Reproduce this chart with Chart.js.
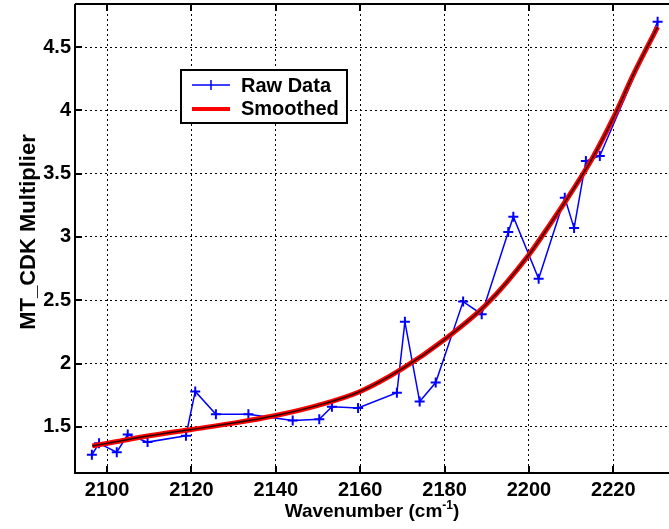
<!DOCTYPE html>
<html>
<head>
<meta charset="utf-8">
<title>MT_CDK Multiplier</title>
<script src="https://cdn.jsdelivr.net/npm/chart.js@4.4.0/dist/chart.umd.min.js"></script>
<style>
  html, body { margin: 0; padding: 0; background: #fff; }
  #wrap { width: 669px; height: 529px; }
</style>
</head>
<body>
<div id="wrap"><canvas id="multiplier_chart" width="669" height="529"></canvas></div>
<script>
// Raw multiplier per wavenumber (cm-1)
const raw_wavenumbers = [2096.4, 2098.1, 2102.3, 2104.9, 2109.6, 2118.7, 2120.9, 2125.8, 2133.5,
                         2144.0, 2150.3, 2153.3, 2159.5, 2168.7, 2170.6, 2174.1, 2177.9, 2184.4,
                         2188.8, 2195.1, 2196.3, 2202.3, 2208.5, 2210.7, 2213.5, 2216.8, 2230.5];
const raw_multipliers = [1.28, 1.37, 1.30, 1.44, 1.38, 1.43, 1.78, 1.60, 1.60,
                         1.55, 1.56, 1.66, 1.65, 1.77, 2.33, 1.70, 1.85, 2.49,
                         2.39, 3.04, 3.16, 2.67, 3.31, 3.07, 3.60, 3.64, 4.70];

// Smoothed fit through the raw data
const smooth_wavenumbers = [2096.5, 2100, 2110, 2120, 2130, 2140, 2150, 2160, 2170, 2180,
                            2190, 2200, 2205, 2210, 2215, 2220, 2225, 2230.5];
const smooth_multipliers = [1.35, 1.37, 1.43, 1.48, 1.53, 1.59, 1.67, 1.78, 1.96, 2.19,
                            2.47, 2.86, 3.10, 3.35, 3.62, 3.94, 4.30, 4.66];

// Axis ticks and limits
const x_ticks = [2100, 2120, 2140, 2160, 2180, 2200, 2220];
const y_ticks = [1.5, 2, 2.5, 3, 3.5, 4, 4.5];
const x_limits = [2092.4, 2233.2];
const y_limits = [1.136, 4.84];

const FONT_FAMILY = '"Liberation Sans", Arial, Helvetica, sans-serif';
const boldFont = size => "bold " + size + "px " + FONT_FAMILY;

const toPoints = (xs, ys) => xs.map((x, i) => ({ x: x, y: ys[i] }));

// frame, inward ticks, legend box and axis titles
const framePlugin = {
  id: "frame",
  afterDatasetsDraw(chart) {
    const ctx = chart.ctx;
    const area = chart.chartArea;
    const xs = chart.scales.x, ys = chart.scales.y;
    ctx.save();
    ctx.strokeStyle = "#000";
    ctx.lineWidth = 2;
    ctx.beginPath();
    ctx.moveTo(area.left, area.top);
    ctx.lineTo(area.right + 2, area.top);
    ctx.moveTo(area.left, area.top);
    ctx.lineTo(area.left, area.bottom);
    ctx.lineTo(area.right + 2, area.bottom);
    // tick marks pointing into the plot
    x_ticks.forEach(v => {
      const px = Math.round(xs.getPixelForValue(v));
      ctx.moveTo(px, area.bottom);
      ctx.lineTo(px, area.bottom - 7);
      ctx.moveTo(px, area.top);
      ctx.lineTo(px, area.top + 7);
    });
    y_ticks.forEach(v => {
      const py = Math.round(ys.getPixelForValue(v));
      ctx.moveTo(area.left, py);
      ctx.lineTo(area.left + 7, py);
    });
    ctx.stroke();

    // legend
    const lx = area.left + 106, ly = area.top + 66, lw = 166, lh = 53;
    ctx.fillStyle = "#fff";
    ctx.fillRect(lx, ly, lw, lh);
    ctx.lineWidth = 2;
    ctx.strokeRect(lx, ly, lw, lh);

    ctx.strokeStyle = "#0000ff";
    ctx.lineWidth = 1.5;
    ctx.beginPath();
    ctx.moveTo(lx + 11, ly + 15);
    ctx.lineTo(lx + 49, ly + 15);
    ctx.moveTo(lx + 30, ly + 10);
    ctx.lineTo(lx + 30, ly + 20);
    ctx.stroke();

    ctx.strokeStyle = "#ff0000";
    ctx.lineWidth = 4;
    ctx.beginPath();
    ctx.moveTo(lx + 11, ly + 39);
    ctx.lineTo(lx + 49, ly + 39);
    ctx.stroke();

    ctx.fillStyle = "#000";
    ctx.font = boldFont(20);
    ctx.textAlign = "left";
    ctx.textBaseline = "alphabetic";
    ctx.fillText("Raw Data", lx + 60, ly + 22);
    ctx.fillText("Smoothed", lx + 60, ly + 45);
    ctx.restore();
  },
  afterDraw(chart) {
    const ctx = chart.ctx;
    const area = chart.chartArea;
    ctx.save();
    ctx.fillStyle = "#000";
    ctx.textBaseline = "alphabetic";

    // x title with superscript
    const main = "Wavenumber (cm", sup = "-1", tail = ")";
    const mainFont = boldFont(19), supFont = boldFont(12);
    ctx.font = mainFont;
    const w1 = ctx.measureText(main).width;
    const w3 = ctx.measureText(tail).width;
    ctx.font = supFont;
    const w2 = ctx.measureText(sup).width;
    const x0 = (area.left + area.right) / 2 - (w1 + w2 + w3) / 2;
    const base = 517;
    ctx.textAlign = "left";
    ctx.font = mainFont;
    ctx.fillText(main, x0, base);
    ctx.font = supFont;
    ctx.fillText(sup, x0 + w1, base - 8);
    ctx.font = mainFont;
    ctx.fillText(tail, x0 + w1 + w2, base);

    // y title
    ctx.translate(35, 232);
    ctx.rotate(-Math.PI / 2);
    ctx.textAlign = "center";
    ctx.font = boldFont(22);
    ctx.fillText("MT_CDK Multiplier", 0, 0);
    ctx.restore();
  }
};

const ctx = document.getElementById("multiplier_chart").getContext("2d");

const multiplier_chart = new Chart(ctx, {
  type: "line",
  data: {
    datasets: [
      {
        label: "Smoothed centre",
        data: toPoints(smooth_wavenumbers, smooth_multipliers),
        borderColor: "#2a0000",
        borderWidth: 1.5,
        pointRadius: 0,
        cubicInterpolationMode: "monotone",
        fill: false
      },
      {
        label: "Smoothed",
        data: toPoints(smooth_wavenumbers, smooth_multipliers),
        borderColor: "#ff0000",
        borderWidth: 5,
        pointRadius: 0,
        cubicInterpolationMode: "monotone",
        fill: false
      },
      {
        label: "Raw Data",
        data: toPoints(raw_wavenumbers, raw_multipliers),
        borderColor: "#0000ff",
        backgroundColor: "#0000ff",
        borderWidth: 1.5,
        pointStyle: "cross",
        pointRadius: 5,
        pointBorderWidth: 2,
        pointBorderColor: "#0000ff",
        tension: 0,
        fill: false
      }
    ]
  },
  options: {
    responsive: false,
    animation: false,
    devicePixelRatio: 1,
    layout: { autoPadding: false, padding: { top: 4, left: 0, right: 0, bottom: 0 } },
    plugins: {
      legend: { display: false },
      tooltip: { enabled: false }
    },
    scales: {
      x: {
        type: "linear",
        min: x_limits[0],
        max: x_limits[1],
        afterBuildTicks: scale => { scale.ticks = x_ticks.map(v => ({ value: v })); },
        afterFit: scale => {
          scale.height = 56;
          scale.paddingLeft = 0;
          scale.paddingRight = 0;
        },
        grid: { color: "#000", lineWidth: 1, drawTicks: false },
        border: { display: false, dash: [2, 3] },
        ticks: {
          color: "#000",
          padding: 5,
          maxRotation: 0,
          font: { family: FONT_FAMILY, size: 20, weight: "bold" },
          callback: v => String(v)
        }
      },
      y: {
        type: "linear",
        min: y_limits[0],
        max: y_limits[1],
        afterBuildTicks: scale => { scale.ticks = y_ticks.map(v => ({ value: v })); },
        afterFit: scale => {
          scale.width = 75;
          scale.paddingTop = 0;
          scale.paddingBottom = 0;
        },
        grid: { color: "#000", lineWidth: 1, drawTicks: false },
        border: { display: false, dash: [2, 3] },
        ticks: {
          color: "#000",
          padding: 4,
          font: { family: FONT_FAMILY, size: 20, weight: "bold" },
          callback: v => String(v)
        }
      }
    }
  },
  plugins: [framePlugin]
});
</script>
</body>
</html>
